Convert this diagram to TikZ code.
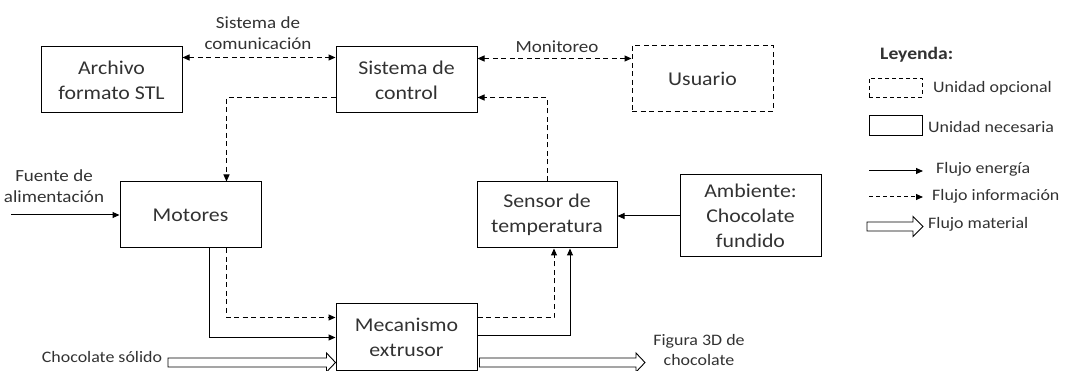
\documentclass[tikz,border=0pt]{standalone}
\usepackage{fontspec}
\setmainfont{Carlito}[FakeStretch=1.12]
\usetikzlibrary{arrows.meta,calc}
\definecolor{txt}{RGB}{50,50,50}
\newcommand\hollowarr[5]{%
  \draw[line width=0.9pt] let \p1=(#1), \p2=(#2) in
    ({\x1},{\y1+#3}) -- ({\x2-#5},{\y1+#3}) -- ({\x2-#5},{\y1+#4}) -- ({\x2},{\y1})
    -- ({\x2-#5},{\y1-#4}) -- ({\x2-#5},{\y1-#3}) -- ({\x1},{\y1-#3}) -- cycle;}
\begin{document}
\begin{tikzpicture}[x=1pt,y=-1pt,
  box/.style={draw,line width=1pt,minimum width=141pt,minimum height=66pt,align=center,inner sep=0pt,font=\fontsize{19.5}{25}\selectfont,text=txt},
  opt/.style={box,dash pattern=on 5pt off 3.5pt},
  info/.style={line width=1pt,dash pattern=on 5pt off 3.5pt},
  energ/.style={line width=1pt},
  tip/.style={-{Triangle[length=7pt,width=6pt]}},
  dtip/.style={{Triangle[length=7pt,width=6pt]}-{Triangle[length=7pt,width=6pt]}},
  lab/.style={align=center,inner sep=0pt,font=\fontsize{17}{21}\selectfont,text=txt},
  leg/.style={anchor=west,inner sep=0pt,font=\fontsize{16}{20}\selectfont,text=txt},
]
\useasboundingbox (0,0) rectangle (1068,371);
% boxes
\node[box] (arch) at (111.5,80) {Archivo\\formato STL};
\node[box] (ctrl) at (406.5,80) {Sistema de\\control};
\node[opt] (usr) at (702.5,78.5) {Usuario};
\node[box] (mot) at (190.5,215) {Motores};
\node[box,minimum width=140pt] (sens) at (547,215) {Sensor de\\temperatura};
\node[box,minimum height=82pt] (amb) at (750.5,216) {Ambiente:\\Chocolate\\fundido};
\node[box] (mec) at (406.5,337) {Mecanismo\\extrusor};
% labels
\node[lab] (lcom) at (258,33) {Sistema de\\comunicación};
\node[lab] (lmon) at (557,47) {Monitoreo};
\node[lab] (lfue) at (54,186) {Fuente de\\alimentación};
\node[lab,font=\fontsize{16}{20}\selectfont] (lcho) at (102,357) {Chocolate sólido};
\node[lab,font=\fontsize{16}{20}\selectfont] (lfig) at (699,350) {Figura 3D de\\chocolate};
% connectors
\draw[info,dtip] ([yshift=-11pt]arch.north east) -- ([yshift=-11pt]ctrl.north west);
\draw[info,dtip] ([yshift=-12pt]ctrl.north east) -- ([yshift=-12pt]ctrl.north east -| usr.west);
\draw[info,tip] ([yshift=16pt]ctrl.south west) -| ([xshift=-35pt]mot.north east);
\draw[info,tip] (sens.north) |- ([yshift=16pt]ctrl.south east);
\coordinate (fin) at (11,215);
\draw[energ,tip] (fin) -- (mot.west);
\draw[energ,tip] ([xshift=-52pt]mot.south east) |- ([yshift=-34pt]mec.north west);
\draw[info,tip] ([xshift=-35pt]mot.south east) |- ([yshift=-14pt]mec.north west);
\draw[info,tip] ([yshift=-14pt]mec.north east) -| ([xshift=7pt]sens.south);
\draw[energ,tip] ([yshift=-32pt]mec.north east) -| ([xshift=23pt]sens.south);
\draw[energ,tip] (amb.west) -- (amb.west -| sens.east);
\coordinate (cs) at (168,362.5);
\hollowarr{cs}{cs -| mec.west}{4.5pt}{9.5pt}{9pt}
\coordinate (fo) at (645,362.5);
\hollowarr{[xshift=2pt]mec.east |- fo}{fo}{4.5pt}{9.5pt}{9pt}
% legend
\node[anchor=west,inner sep=0pt,font=\bfseries\fontsize{17.5}{20}\selectfont,text=txt] (ley) at (880,55) {Leyenda:};
\node[draw,line width=0.9pt,dash pattern=on 4pt off 3pt,minimum width=53pt,minimum height=19pt,inner sep=0pt] (lopt) at (895.5,87.5) {};
\node[leg] (topt) at (933,88) {Unidad opcional};
\node[draw,line width=0.9pt,minimum width=53pt,minimum height=20pt,inner sep=0pt] (lnec) at (895.5,125) {};
\node[leg] (tnec) at (928,127) {Unidad necesaria};
\coordinate (e1) at (869,171); \coordinate (e2) at (923,171);
\draw[energ,tip] (e1) -- (e2);
\node[leg] (tene) at (936,169) {Flujo energía};
\coordinate (i1) at (869,197); \coordinate (i2) at (923,197);
\draw[info,tip,dash pattern=on 4pt off 3pt] (i1) -- (i2);
\node[leg] (tinf) at (932,196) {Flujo información};
\coordinate (m1) at (867,226.5); \coordinate (m2) at (923,226.5);
\hollowarr{m1}{m2}{4.5pt}{10pt}{10pt}
\node[leg] (tmat) at (928,224) {Flujo material};
\end{tikzpicture}
\end{document}
